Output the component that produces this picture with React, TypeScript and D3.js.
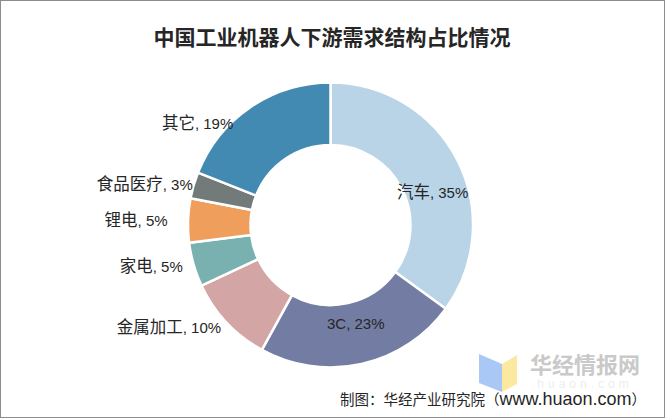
import React, { useEffect, useRef } from "react";
import * as d3 from "d3";

const categories = ["汽车", "3C", "金属加工", "家电", "锂电", "食品医疗", "其它"];
const shares = [35, 23, 10, 5, 5, 3, 19];
const colors = ["#b8d4e6", "#737ca3", "#d4a5a5", "#79b0b0", "#f09e5c", "#727b79", "#438ab3"];

const title = "中国工业机器人下游需求结构占比情况";
const sourceCn = "制图：华经产业研究院（";
const sourceUrl = "www.huaon.com）";

const App: React.FC = () => {
  const svgRef = useRef<SVGSVGElement | null>(null);

  useEffect(() => {
    if (!svgRef.current) return;
    const svg = d3.select(svgRef.current);
    svg.selectAll("*").remove();

    const width = 665;
    const height = 418;
    const cx = 330.5;
    const cy = 225;
    const latin = "'Liberation Sans', Arial, sans-serif";
    const cjk = "'Noto Sans CJK SC', sans-serif";

    svg.attr("width", width).attr("height", height);

    svg.append("rect")
      .attr("x", 0.5)
      .attr("y", 0.5)
      .attr("width", width - 1)
      .attr("height", height - 1)
      .attr("fill", "#fff")
      .attr("stroke", "#8c8c8c");

    svg.append("text")
      .attr("x", 332)
      .attr("y", 45)
      .attr("text-anchor", "middle")
      .attr("font-family", cjk)
      .attr("font-weight", "bold")
      .attr("font-size", "21px")
      .attr("fill", "#262626")
      .text(title);

    const data = categories.map((c, i) => ({ name: c, value: shares[i], color: colors[i] }));
    const pie = d3.pie<typeof data[number]>().sort(null).value((d) => d.value);
    const arcs = pie(data);

    const arc = d3.arc<d3.PieArcDatum<typeof data[number]>>()
      .innerRadius(80)
      .outerRadius(142.5);

    const g = svg.append("g").attr("transform", `translate(${cx},${cy})`);

    g.selectAll("path")
      .data(arcs)
      .enter()
      .append("path")
      .attr("d", arc)
      .attr("fill", (d) => d.data.color)
      .attr("stroke", "#fff")
      .attr("stroke-width", 2.5);

    // inside labels for the two big slices, outside (right-aligned) for the rest
    const nudge: Record<string, [number, number]> = {
      "汽车": [3, 18],
      "3C": [1, -10],
      "金属加工": [5, -5],
      "家电": [3, -2],
      "锂电": [-6, 0],
      "食品医疗": [13, 3],
      "其它": [-9, 28],
    };
    const inside = new Set(["汽车", "3C"]);
    const outerLabelR = 157;

    arcs.forEach((d) => {
      const name = d.data.name;
      const [nx, ny] = nudge[name] || [0, 0];
      let x: number;
      let y: number;
      let anchor = "middle";
      if (inside.has(name)) {
        [x, y] = arc.centroid(d);
      } else {
        const a = (d.startAngle + d.endAngle) / 2;
        x = Math.sin(a) * outerLabelR;
        y = -Math.cos(a) * outerLabelR;
        anchor = "end";
      }
      const t = g.append("text")
        .attr("x", x + nx)
        .attr("y", y + ny)
        .attr("dy", "0.35em")
        .attr("text-anchor", anchor)
        .attr("fill", "#262626");
      const cjkName = /[\u4e00-\u9fff]/.test(name);
      t.append("tspan")
        .attr("font-family", cjkName ? cjk : latin)
        .attr("font-size", cjkName ? "16.5px" : "15px")
        .text(name);
      t.append("tspan")
        .attr("font-family", latin)
        .attr("font-size", "15px")
        .text(`, ${d.data.value}%`);
    });

    // watermark
    const wm = svg.append("g");
    wm.append("polygon")
      .attr("points", "479,354 502,364 502,392 479,383")
      .attr("fill", "#a9c8f5");
    wm.append("polygon")
      .attr("points", "502,364 517,355 517,384 502,392")
      .attr("fill", "#fbe9a0");
    wm.append("text")
      .attr("x", 585)
      .attr("y", 373)
      .attr("text-anchor", "middle")
      .attr("font-family", cjk)
      .attr("font-weight", "bold")
      .attr("font-size", "22px")
      .attr("fill", "#c9c9c9")
      .text("华经情报网");
    wm.append("text")
      .attr("x", 585)
      .attr("y", 388)
      .attr("text-anchor", "middle")
      .attr("font-family", latin)
      .attr("font-size", "12px")
      .attr("letter-spacing", "4px")
      .attr("fill", "#ededed")
      .text("huaon.com");

    const src = svg.append("text")
      .attr("x", 646)
      .attr("y", 405)
      .attr("text-anchor", "end")
      .attr("fill", "#262626");
    src.append("tspan")
      .attr("font-family", cjk)
      .attr("font-size", "14.5px")
      .text(sourceCn);
    src.append("tspan")
      .attr("font-family", latin)
      .attr("font-size", "18px")
      .text(sourceUrl.replace("）", ""));
    src.append("tspan")
      .attr("font-family", cjk)
      .attr("font-size", "14.5px")
      .text("）");
  }, []);

  return (
    <svg
      ref={svgRef}
      style={{ position: "absolute", left: 0, top: 0, display: "block" }}
    ></svg>
  );
};

export default App;
